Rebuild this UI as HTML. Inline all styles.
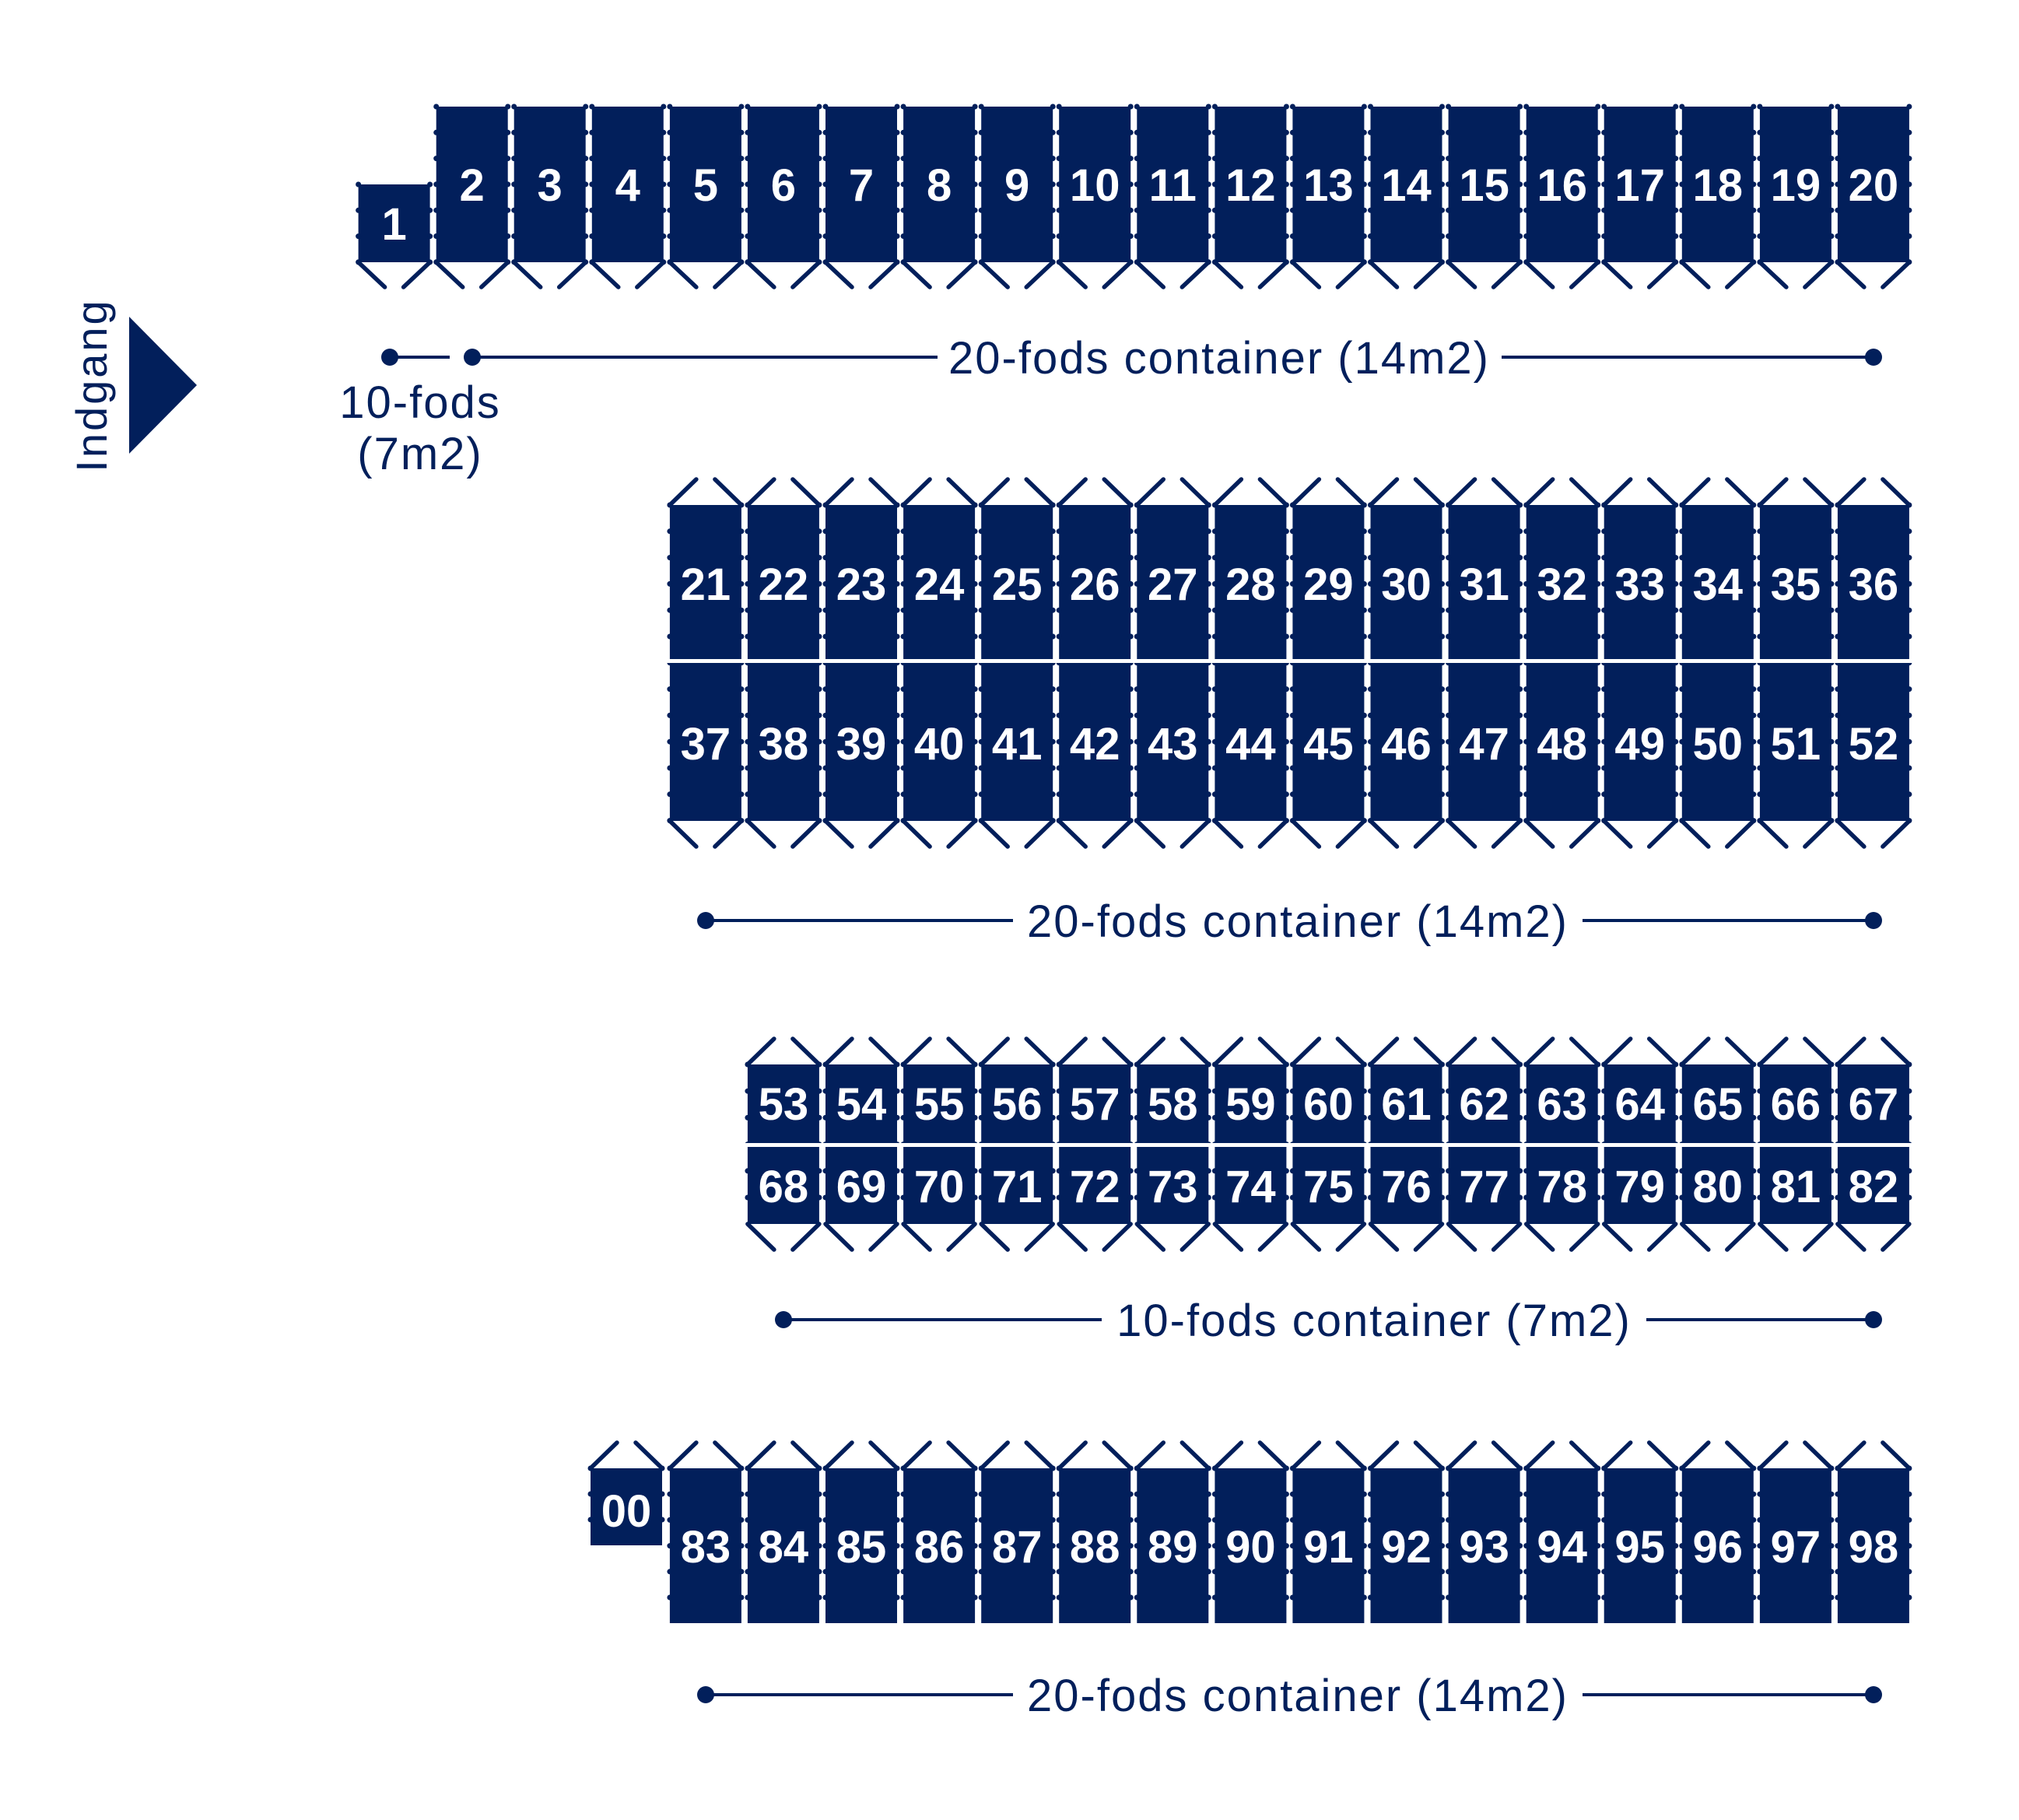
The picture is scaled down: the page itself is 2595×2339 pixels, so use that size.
<!DOCTYPE html>
<html><head><meta charset="utf-8"><style>html,body{margin:0;padding:0;background:#fff}svg{display:block}</style></head>
<body>
<svg width="2595" height="2339" viewBox="0 0 2595 2339" xmlns="http://www.w3.org/2000/svg">
<defs>
<g id="r1t">
<rect x="0" y="137" width="92" height="200" fill="#021f5b"/>
<line x1="0" y1="137" x2="0" y2="337" stroke="#021f5b" stroke-width="7" stroke-linecap="round" stroke-dasharray="0 33.3"/>
<line x1="92" y1="137" x2="92" y2="337" stroke="#021f5b" stroke-width="7" stroke-linecap="round" stroke-dasharray="0 33.3"/>
<path d="M0,337 L34,369 M92,337 L58,369" stroke="#021f5b" stroke-width="5.5" stroke-linecap="round" fill="none"/>
</g>
<g id="r1s">
<rect x="0" y="237" width="92" height="100" fill="#021f5b"/>
<line x1="0" y1="237" x2="0" y2="337" stroke="#021f5b" stroke-width="7" stroke-linecap="round" stroke-dasharray="0 33.3"/>
<line x1="92" y1="237" x2="92" y2="337" stroke="#021f5b" stroke-width="7" stroke-linecap="round" stroke-dasharray="0 33.3"/>
<path d="M0,337 L34,369 M92,337 L58,369" stroke="#021f5b" stroke-width="5.5" stroke-linecap="round" fill="none"/>
</g>
<g id="r2">
<rect x="0" y="649" width="92" height="406" fill="#021f5b"/>
<line x1="0" y1="649" x2="0" y2="1055" stroke="#021f5b" stroke-width="7" stroke-linecap="round" stroke-dasharray="0 33.8"/>
<line x1="92" y1="649" x2="92" y2="1055" stroke="#021f5b" stroke-width="7" stroke-linecap="round" stroke-dasharray="0 33.8"/>
<rect x="-6" y="847" width="104" height="5" fill="#fff"/>
<path d="M0,649 L34,616 M92,649 L58,616 M0,1055 L34,1088 M92,1055 L58,1088" stroke="#021f5b" stroke-width="5.5" stroke-linecap="round" fill="none"/>
</g>
<g id="r3">
<rect x="0" y="1368" width="92" height="205" fill="#021f5b"/>
<line x1="0" y1="1368" x2="0" y2="1573" stroke="#021f5b" stroke-width="7" stroke-linecap="round" stroke-dasharray="0 34.2"/>
<line x1="92" y1="1368" x2="92" y2="1573" stroke="#021f5b" stroke-width="7" stroke-linecap="round" stroke-dasharray="0 34.2"/>
<rect x="-6" y="1469" width="104" height="5" fill="#fff"/>
<path d="M0,1368 L34,1335 M92,1368 L58,1335 M0,1573 L34,1606 M92,1573 L58,1606" stroke="#021f5b" stroke-width="5.5" stroke-linecap="round" fill="none"/>
</g>
<g id="r4">
<rect x="0" y="1887" width="92" height="199" fill="#021f5b"/>
<line x1="0" y1="1887" x2="0" y2="2086" stroke="#021f5b" stroke-width="7" stroke-linecap="round" stroke-dasharray="0 33.2"/>
<line x1="92" y1="1887" x2="92" y2="2086" stroke="#021f5b" stroke-width="7" stroke-linecap="round" stroke-dasharray="0 33.2"/>
<path d="M0,1887 L34,1854 M92,1887 L58,1854" stroke="#021f5b" stroke-width="5.5" stroke-linecap="round" fill="none"/>
</g>
<g id="r4s">
<rect x="0" y="1887" width="92" height="99" fill="#021f5b"/>
<line x1="0" y1="1887" x2="0" y2="1986" stroke="#021f5b" stroke-width="7" stroke-linecap="round" stroke-dasharray="0 33"/>
<line x1="92" y1="1887" x2="92" y2="1986" stroke="#021f5b" stroke-width="7" stroke-linecap="round" stroke-dasharray="0 33"/>
<path d="M0,1887 L34,1854 M92,1887 L58,1854" stroke="#021f5b" stroke-width="5.5" stroke-linecap="round" fill="none"/>
</g>
</defs>

<!-- Entrance -->
<text transform="translate(137,495) rotate(-90)" text-anchor="middle" font-family="Liberation Sans, sans-serif" font-size="56" letter-spacing="3" fill="#021f5b">Indgang</text>
<polygon points="166,407 253,495 166,583" fill="#021f5b"/>

<g font-family="Liberation Sans, sans-serif" font-weight="bold" font-size="58" fill="#fff" text-anchor="middle">
<!-- Row 1 -->
<g transform="translate(460.6,0)"><use href="#r1s"/><text x="46" y="308">1</text></g>
<g transform="translate(560.7,0)"><use href="#r1t"/><text x="46" y="258">2</text></g>
<g transform="translate(660.7,0)"><use href="#r1t"/><text x="46" y="258">3</text></g>
<g transform="translate(760.8,0)"><use href="#r1t"/><text x="46" y="258">4</text></g>
<g transform="translate(860.9,0)"><use href="#r1t"/><text x="46" y="258">5</text></g>
<g transform="translate(960.9,0)"><use href="#r1t"/><text x="46" y="258">6</text></g>
<g transform="translate(1061,0)"><use href="#r1t"/><text x="46" y="258">7</text></g>
<g transform="translate(1161.1,0)"><use href="#r1t"/><text x="46" y="258">8</text></g>
<g transform="translate(1261.2,0)"><use href="#r1t"/><text x="46" y="258">9</text></g>
<g transform="translate(1361.2,0)"><use href="#r1t"/><text x="46" y="258">10</text></g>
<g transform="translate(1461.3,0)"><use href="#r1t"/><text x="46" y="258">11</text></g>
<g transform="translate(1561.4,0)"><use href="#r1t"/><text x="46" y="258">12</text></g>
<g transform="translate(1661.4,0)"><use href="#r1t"/><text x="46" y="258">13</text></g>
<g transform="translate(1761.5,0)"><use href="#r1t"/><text x="46" y="258">14</text></g>
<g transform="translate(1861.6,0)"><use href="#r1t"/><text x="46" y="258">15</text></g>
<g transform="translate(1961.7,0)"><use href="#r1t"/><text x="46" y="258">16</text></g>
<g transform="translate(2061.7,0)"><use href="#r1t"/><text x="46" y="258">17</text></g>
<g transform="translate(2161.8,0)"><use href="#r1t"/><text x="46" y="258">18</text></g>
<g transform="translate(2261.9,0)"><use href="#r1t"/><text x="46" y="258">19</text></g>
<g transform="translate(2361.9,0)"><use href="#r1t"/><text x="46" y="258">20</text></g>

<!-- Row 2 -->
<g transform="translate(860.9,0)"><use href="#r2"/><text x="46" y="771">21</text><text x="46" y="976">37</text></g>
<g transform="translate(960.9,0)"><use href="#r2"/><text x="46" y="771">22</text><text x="46" y="976">38</text></g>
<g transform="translate(1061,0)"><use href="#r2"/><text x="46" y="771">23</text><text x="46" y="976">39</text></g>
<g transform="translate(1161.1,0)"><use href="#r2"/><text x="46" y="771">24</text><text x="46" y="976">40</text></g>
<g transform="translate(1261.2,0)"><use href="#r2"/><text x="46" y="771">25</text><text x="46" y="976">41</text></g>
<g transform="translate(1361.2,0)"><use href="#r2"/><text x="46" y="771">26</text><text x="46" y="976">42</text></g>
<g transform="translate(1461.3,0)"><use href="#r2"/><text x="46" y="771">27</text><text x="46" y="976">43</text></g>
<g transform="translate(1561.4,0)"><use href="#r2"/><text x="46" y="771">28</text><text x="46" y="976">44</text></g>
<g transform="translate(1661.4,0)"><use href="#r2"/><text x="46" y="771">29</text><text x="46" y="976">45</text></g>
<g transform="translate(1761.5,0)"><use href="#r2"/><text x="46" y="771">30</text><text x="46" y="976">46</text></g>
<g transform="translate(1861.6,0)"><use href="#r2"/><text x="46" y="771">31</text><text x="46" y="976">47</text></g>
<g transform="translate(1961.7,0)"><use href="#r2"/><text x="46" y="771">32</text><text x="46" y="976">48</text></g>
<g transform="translate(2061.7,0)"><use href="#r2"/><text x="46" y="771">33</text><text x="46" y="976">49</text></g>
<g transform="translate(2161.8,0)"><use href="#r2"/><text x="46" y="771">34</text><text x="46" y="976">50</text></g>
<g transform="translate(2261.9,0)"><use href="#r2"/><text x="46" y="771">35</text><text x="46" y="976">51</text></g>
<g transform="translate(2361.9,0)"><use href="#r2"/><text x="46" y="771">36</text><text x="46" y="976">52</text></g>

<!-- Row 3 -->
<g transform="translate(960.9,0)"><use href="#r3"/><text x="46" y="1439">53</text><text x="46" y="1545">68</text></g>
<g transform="translate(1061,0)"><use href="#r3"/><text x="46" y="1439">54</text><text x="46" y="1545">69</text></g>
<g transform="translate(1161.1,0)"><use href="#r3"/><text x="46" y="1439">55</text><text x="46" y="1545">70</text></g>
<g transform="translate(1261.2,0)"><use href="#r3"/><text x="46" y="1439">56</text><text x="46" y="1545">71</text></g>
<g transform="translate(1361.2,0)"><use href="#r3"/><text x="46" y="1439">57</text><text x="46" y="1545">72</text></g>
<g transform="translate(1461.3,0)"><use href="#r3"/><text x="46" y="1439">58</text><text x="46" y="1545">73</text></g>
<g transform="translate(1561.4,0)"><use href="#r3"/><text x="46" y="1439">59</text><text x="46" y="1545">74</text></g>
<g transform="translate(1661.4,0)"><use href="#r3"/><text x="46" y="1439">60</text><text x="46" y="1545">75</text></g>
<g transform="translate(1761.5,0)"><use href="#r3"/><text x="46" y="1439">61</text><text x="46" y="1545">76</text></g>
<g transform="translate(1861.6,0)"><use href="#r3"/><text x="46" y="1439">62</text><text x="46" y="1545">77</text></g>
<g transform="translate(1961.7,0)"><use href="#r3"/><text x="46" y="1439">63</text><text x="46" y="1545">78</text></g>
<g transform="translate(2061.7,0)"><use href="#r3"/><text x="46" y="1439">64</text><text x="46" y="1545">79</text></g>
<g transform="translate(2161.8,0)"><use href="#r3"/><text x="46" y="1439">65</text><text x="46" y="1545">80</text></g>
<g transform="translate(2261.9,0)"><use href="#r3"/><text x="46" y="1439">66</text><text x="46" y="1545">81</text></g>
<g transform="translate(2361.9,0)"><use href="#r3"/><text x="46" y="1439">67</text><text x="46" y="1545">82</text></g>

<!-- Row 4 -->
<g transform="translate(759,0)"><use href="#r4s"/><text x="46" y="1962">00</text></g>
<g transform="translate(860.9,0)"><use href="#r4"/><text x="46" y="2008">83</text></g>
<g transform="translate(960.9,0)"><use href="#r4"/><text x="46" y="2008">84</text></g>
<g transform="translate(1061,0)"><use href="#r4"/><text x="46" y="2008">85</text></g>
<g transform="translate(1161.1,0)"><use href="#r4"/><text x="46" y="2008">86</text></g>
<g transform="translate(1261.2,0)"><use href="#r4"/><text x="46" y="2008">87</text></g>
<g transform="translate(1361.2,0)"><use href="#r4"/><text x="46" y="2008">88</text></g>
<g transform="translate(1461.3,0)"><use href="#r4"/><text x="46" y="2008">89</text></g>
<g transform="translate(1561.4,0)"><use href="#r4"/><text x="46" y="2008">90</text></g>
<g transform="translate(1661.4,0)"><use href="#r4"/><text x="46" y="2008">91</text></g>
<g transform="translate(1761.5,0)"><use href="#r4"/><text x="46" y="2008">92</text></g>
<g transform="translate(1861.6,0)"><use href="#r4"/><text x="46" y="2008">93</text></g>
<g transform="translate(1961.7,0)"><use href="#r4"/><text x="46" y="2008">94</text></g>
<g transform="translate(2061.7,0)"><use href="#r4"/><text x="46" y="2008">95</text></g>
<g transform="translate(2161.8,0)"><use href="#r4"/><text x="46" y="2008">96</text></g>
<g transform="translate(2261.9,0)"><use href="#r4"/><text x="46" y="2008">97</text></g>
<g transform="translate(2361.9,0)"><use href="#r4"/><text x="46" y="2008">98</text></g>
</g>

<!-- Dimension lines -->
<g stroke="#021f5b" stroke-width="4" fill="#021f5b">
<line x1="501" y1="459" x2="578" y2="459"/>
<line x1="607" y1="459" x2="1205" y2="459"/><line x1="1930" y1="459" x2="2408" y2="459"/>
<line x1="907" y1="1183" x2="1302" y2="1183"/><line x1="2034" y1="1183" x2="2408" y2="1183"/>
<line x1="1007" y1="1696" x2="1416" y2="1696"/><line x1="2116" y1="1696" x2="2408" y2="1696"/>
<line x1="907" y1="2178" x2="1302" y2="2178"/><line x1="2034" y1="2178" x2="2408" y2="2178"/>
</g>
<g fill="#021f5b">
<circle cx="501" cy="459" r="11"/><circle cx="607" cy="459" r="11"/><circle cx="2408" cy="459" r="11"/>
<circle cx="907" cy="1183" r="11"/><circle cx="2408" cy="1183" r="11"/>
<circle cx="1007" cy="1696" r="11"/><circle cx="2408" cy="1696" r="11"/>
<circle cx="907" cy="2178" r="11"/><circle cx="2408" cy="2178" r="11"/>
</g>
<g font-family="Liberation Sans, sans-serif" font-size="58" letter-spacing="2" fill="#021f5b" text-anchor="middle">
<text x="1567" y="480">20-fods container (14m2)</text>
<text x="1668" y="1204">20-fods container (14m2)</text>
<text x="1766" y="1717">10-fods container (7m2)</text>
<text x="1668" y="2199">20-fods container (14m2)</text>
<text x="540" y="537">10-fods</text>
<text x="540" y="603">(7m2)</text>
</g>
</svg>
</body></html>
